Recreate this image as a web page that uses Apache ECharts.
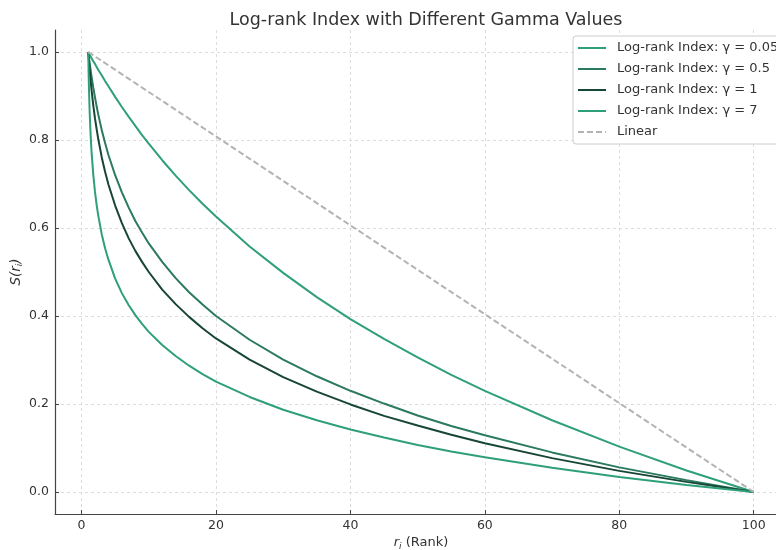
<!DOCTYPE html>
<html>
<head>
<meta charset="utf-8">
<script src="https://cdn.jsdelivr.net/npm/echarts@6/dist/echarts.min.js"></script>
<style>html,body{margin:0;padding:0;background:#fff;}#c{width:776px;height:550px;}</style>
</head>
<body>
<div id="c"></div>
<script>
// Rank positions (x)
const ranks = [1, 1.05, 1.1, 1.2, 1.35, 1.5, 1.75, 2, 2.25, 2.5, 3, 3.5, 4, 5, 6, 7, 8, 9, 10, 12, 14, 16, 18, 20, 25, 30, 35, 40, 45, 50, 55, 60, 70, 80, 90, 100];
// S(r_i) values for each gamma
const g005 = [1.0, 0.999, 0.997, 0.994, 0.990, 0.986, 0.979, 0.973, 0.966, 0.959, 0.947, 0.934, 0.922, 0.898, 0.875, 0.853, 0.832, 0.811, 0.792, 0.754, 0.719, 0.686, 0.655, 0.626, 0.558, 0.498, 0.443, 0.393, 0.348, 0.306, 0.266, 0.230, 0.163, 0.103, 0.049, 0.0];
const g05  = [1.0, 0.994, 0.988, 0.976, 0.959, 0.943, 0.919, 0.897, 0.876, 0.857, 0.823, 0.793, 0.766, 0.720, 0.681, 0.647, 0.616, 0.590, 0.565, 0.523, 0.486, 0.454, 0.426, 0.400, 0.346, 0.301, 0.263, 0.230, 0.201, 0.174, 0.150, 0.129, 0.090, 0.056, 0.027, 0.0];
const g1   = [1.0, 0.989, 0.979, 0.960, 0.935, 0.912, 0.878, 0.849, 0.824, 0.801, 0.761, 0.728, 0.699, 0.651, 0.611, 0.577, 0.548, 0.523, 0.500, 0.460, 0.427, 0.398, 0.372, 0.349, 0.301, 0.261, 0.228, 0.199, 0.173, 0.151, 0.130, 0.111, 0.077, 0.048, 0.023, 0.0];
const g7   = [1.0, 0.954, 0.919, 0.866, 0.811, 0.770, 0.720, 0.682, 0.652, 0.627, 0.586, 0.554, 0.528, 0.485, 0.452, 0.425, 0.402, 0.382, 0.364, 0.334, 0.309, 0.287, 0.268, 0.251, 0.216, 0.187, 0.163, 0.142, 0.124, 0.107, 0.092, 0.079, 0.055, 0.034, 0.016, 0.0];
const linearX = [1, 100];
const linearY = [1.0, 0.0];
const xTicks = [0, 20, 40, 60, 80, 100];
const yTicks = [0.0, 0.2, 0.4, 0.6, 0.8, 1.0];
const names = ['Log-rank Index: γ = 0.05', 'Log-rank Index: γ = 0.5', 'Log-rank Index: γ = 1', 'Log-rank Index: γ = 7', 'Linear'];

const pair = (xs, ys) => xs.map((x, i) => [x, ys[i]]);
const FONT = 'DejaVu Sans';
const colors = ['#2e9f79', '#2a7a5d', '#174536', '#2e9f79', '#b3b3b3'];

function lineSeries(name, data, color, dashed) {
  return {
    name: name, type: 'line', data: data, symbol: 'none', smooth: false,
    lineStyle: { color: color, width: 2, type: dashed ? [6, 3] : 'solid' },
    itemStyle: { color: color },
    emphasis: { disabled: true }, silent: true, animation: false
  };
}

const chart = echarts.init(document.getElementById('c'), null, { renderer: 'canvas' });
chart.setOption({
  animation: false,
  backgroundColor: '#ffffff',
  textStyle: { fontFamily: FONT },
  title: {
    text: 'Log-rank Index with Different Gamma Values',
    left: 421, top: 6, textAlign: 'center',
    textStyle: { fontFamily: FONT, fontSize: 17.5, fontWeight: 'normal', color: '#333333' }
  },
  grid: { left: 55, right: -11, top: 30, bottom: 36, containLabel: false, outerBoundsMode: 'none' },
  legend: {
    orient: 'vertical', left: 573, top: 36,
    data: names,
    itemWidth: 28, itemHeight: 10, itemGap: 7,
    padding: [5, 30, 5, 4],
    itemStyle: { opacity: 0 },
    backgroundColor: '#ffffff', borderColor: '#cccccc', borderWidth: 1, borderRadius: 3,
    textStyle: { fontFamily: FONT, fontSize: 13, color: '#333333', lineHeight: 14, padding: [0, 0, 0, 6] }
  },
  xAxis: {
    type: 'value', min: -3.95, max: 104.95,
    name: '{i|r}{s|i}{n| (Rank)}', nameLocation: 'middle', nameGap: 21, nameMoveOverlap: false,
    nameTextStyle: {
      fontFamily: FONT, fontSize: 13, color: '#333333',
      rich: {
        i: { fontFamily: FONT, fontSize: 13, fontStyle: 'italic', color: '#333333', lineHeight: 16 },
        s: { fontFamily: FONT, fontSize: 9, fontStyle: 'italic', color: '#333333', verticalAlign: 'bottom', lineHeight: 16 },
        n: { fontFamily: FONT, fontSize: 13, color: '#333333', lineHeight: 16 }
      }
    },
    axisLine: { show: true, onZero: false, lineStyle: { color: '#444444', width: 1.2 } },
    axisTick: { show: true, inside: true, length: 4, customValues: xTicks, lineStyle: { color: '#444444' } },
    axisLabel: { customValues: xTicks, margin: 5, fontFamily: FONT, fontSize: 12.5, color: '#333333', formatter: v => String(Math.round(v)) },
    splitLine: { show: true, lineStyle: { color: '#d5d5d5', type: [3, 3], width: 0.8 } }
  },
  yAxis: {
    type: 'value', min: -0.05, max: 1.05,
    name: '{i|S(r}{s|i}{i|)}', nameLocation: 'middle', nameGap: 31, nameRotate: 90, nameMoveOverlap: false,
    nameTextStyle: {
      fontFamily: FONT, fontSize: 13.5, color: '#333333',
      rich: {
        i: { fontFamily: FONT, fontSize: 13.5, fontStyle: 'italic', color: '#333333', lineHeight: 16 },
        s: { fontFamily: FONT, fontSize: 9, fontStyle: 'italic', color: '#333333', verticalAlign: 'bottom', lineHeight: 16 }
      }
    },
    axisLine: { show: true, onZero: false, lineStyle: { color: '#444444', width: 1.2 } },
    axisTick: { show: true, inside: true, length: 4, customValues: yTicks, lineStyle: { color: '#444444' } },
    axisLabel: { customValues: yTicks, margin: 6, fontFamily: FONT, fontSize: 12.5, color: '#333333', formatter: v => v.toFixed(1) },
    splitLine: { show: true, lineStyle: { color: '#d5d5d5', type: [3, 3], width: 0.8 } }
  },
  series: [
    lineSeries(names[0], pair(ranks, g005), colors[0], false),
    lineSeries(names[1], pair(ranks, g05), colors[1], false),
    lineSeries(names[2], pair(ranks, g1), colors[2], false),
    lineSeries(names[3], pair(ranks, g7), colors[3], false),
    lineSeries(names[4], pair(linearX, linearY), colors[4], true)
  ]
});
</script>
</body>
</html>
